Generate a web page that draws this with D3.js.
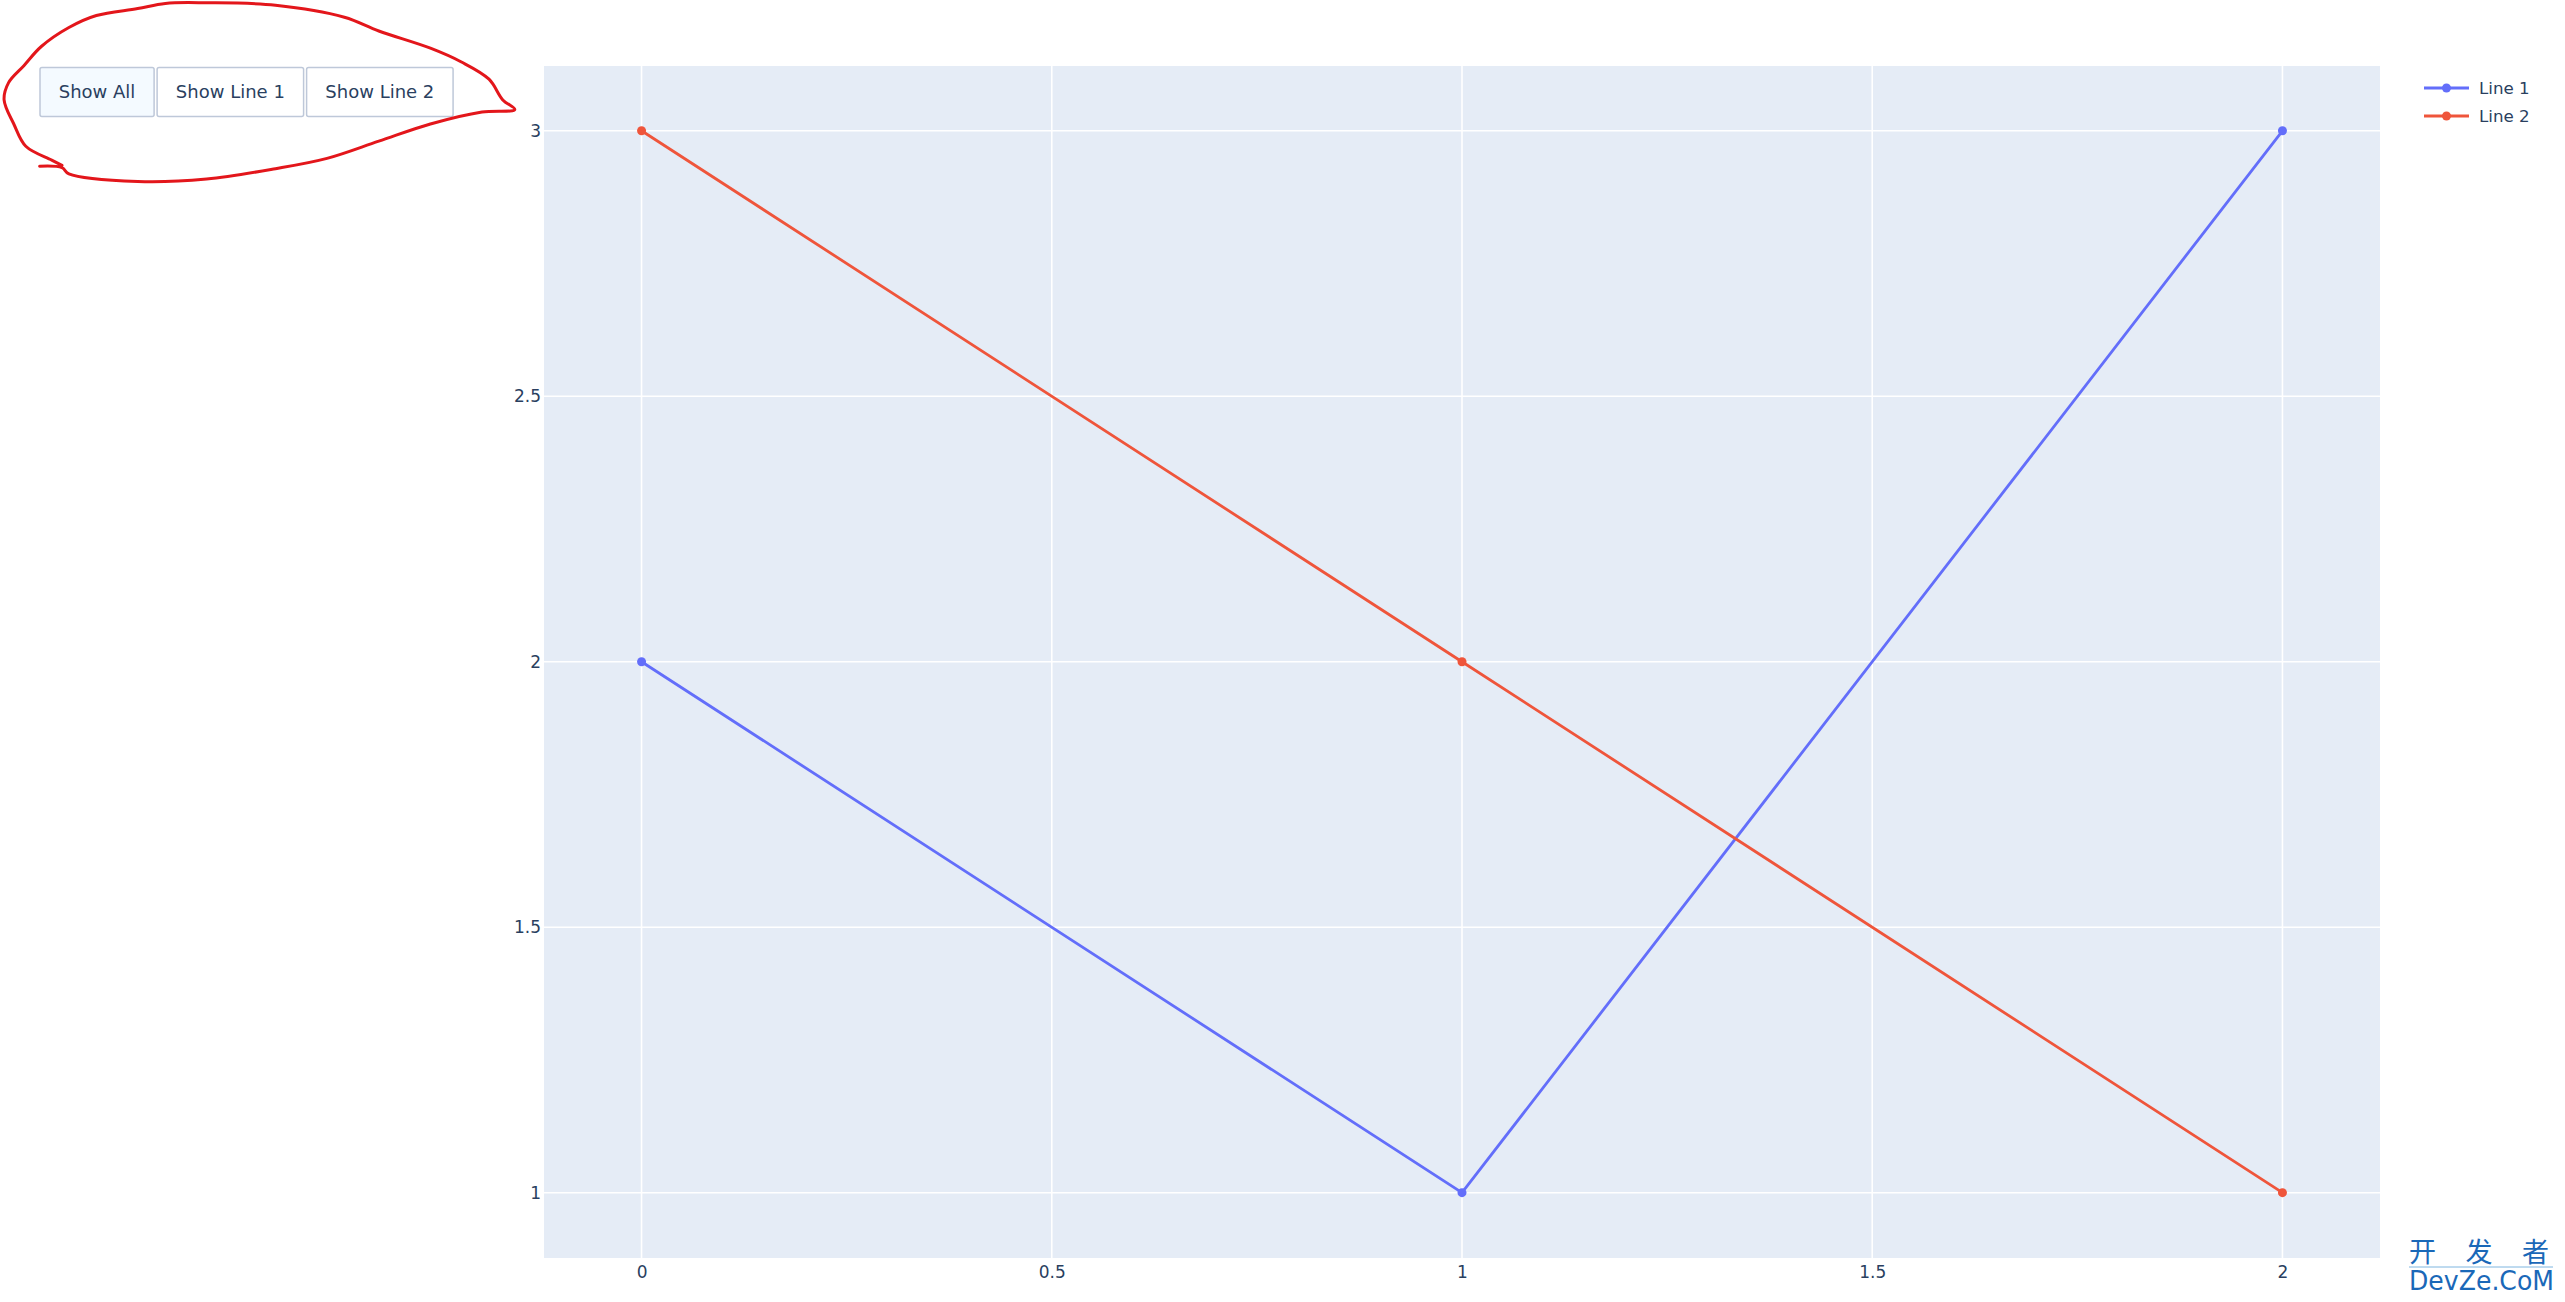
<!DOCTYPE html>
<html>
<head>
<meta charset="utf-8">
<script src="https://cdn.jsdelivr.net/npm/d3@7"></script>
<style>
  html, body { margin: 0; padding: 0; background: #fff; }
  svg { display: block; }
  .btn { cursor: pointer; }
</style>
</head>
<body>
<svg id="chart" width="2565" height="1302"></svg>
<script>
// ---- data ----
const xValues = [0, 1, 2];
const line1 = [2, 1, 3];
const line2 = [3, 2, 1];
const seriesNames = ["Line 1", "Line 2"];
const xTicks = [0, 0.5, 1, 1.5, 2];
const yTicks = [1, 1.5, 2, 2.5, 3];
const buttonLabels = ["Show All", "Show Line 1", "Show Line 2"];
const watermarkTop = "开 发 者";
const watermarkBottom = "DevZe.CoM";

// ---- layout ----
const W = 2565, H = 1302;
const plot = { left: 544, right: 2380, top: 66, bottom: 1258 };
const colors = ["#636efa", "#EF553B"];
const font = "'DejaVu Sans', Verdana, sans-serif";
const textColor = "#2a3f5f";

const svg = d3.select("#chart");

const x = d3.scaleLinear().domain([-0.1189, 2.1189]).range([plot.left, plot.right]);
const y = d3.scaleLinear().domain([0.877, 3.122]).range([plot.bottom, plot.top]);

// plot background
svg.append("rect")
  .attr("x", plot.left).attr("y", plot.top)
  .attr("width", plot.right - plot.left).attr("height", plot.bottom - plot.top)
  .attr("fill", "#E5ECF6");

// gridlines
const grid = svg.append("g");
grid.selectAll("line.vx").data(xTicks).join("line")
  .attr("x1", d => x(d)).attr("x2", d => x(d))
  .attr("y1", plot.top).attr("y2", plot.bottom)
  .attr("stroke", "#fff").attr("stroke-width", 1.6);
grid.selectAll("line.hy").data(yTicks).join("line")
  .attr("y1", d => y(d)).attr("y2", d => y(d))
  .attr("x1", plot.left).attr("x2", plot.right)
  .attr("stroke", "#fff").attr("stroke-width", 1.6);

// axes (labels only)
const fmt = d3.format("~g");
const xAxis = svg.append("g")
  .attr("transform", `translate(0,${plot.bottom})`)
  .call(d3.axisBottom(x).tickValues(xTicks).tickFormat(fmt).tickSize(0).tickPadding(8));
const yAxis = svg.append("g")
  .attr("transform", `translate(${plot.left},0)`)
  .call(d3.axisLeft(y).tickValues(yTicks).tickFormat(fmt).tickSize(0).tickPadding(3));
[xAxis, yAxis].forEach(a => {
  a.select(".domain").remove();
  a.selectAll("text").attr("fill", textColor).style("font-family", font).style("font-size", "17px");
});

// series
const series = [line1, line2].map((vals, i) => ({
  name: seriesNames[i], color: colors[i],
  points: xValues.map((xv, j) => ({ x: xv, y: vals[j] }))
}));
const lineGen = d3.line().x(d => x(d.x)).y(d => y(d.y));
const seriesG = svg.append("g").selectAll("g").data(series).join("g");
seriesG.append("path")
  .attr("d", d => lineGen(d.points))
  .attr("fill", "none").attr("stroke", d => d.color).attr("stroke-width", 2.8);
seriesG.each(function (s) {
  d3.select(this).selectAll("circle").data(s.points).join("circle")
    .attr("cx", d => x(d.x)).attr("cy", d => y(d.y)).attr("r", 4.5)
    .attr("fill", s.color);
});

// legend
const legend = svg.append("g").attr("transform", "translate(2424,88)");
const legItems = legend.selectAll("g").data(series).join("g")
  .attr("transform", (d, i) => `translate(0,${i * 28})`);
legItems.append("line").attr("x1", 0).attr("x2", 45).attr("y1", 0).attr("y2", 0)
  .attr("stroke", d => d.color).attr("stroke-width", 2.8);
legItems.append("circle").attr("cx", 22.5).attr("cy", 0).attr("r", 4.5).attr("fill", d => d.color);
legItems.append("text").attr("x", 55).attr("y", 0).attr("dy", "0.36em")
  .attr("fill", textColor).style("font-family", font).style("font-size", "16.7px")
  .text(d => d.name);

// buttons
const btnG = svg.append("g");
let active = 0;
let bx = 40;
const btnTop = 67.5, btnH = 49;
buttonLabels.forEach((label, i) => {
  const g = btnG.append("g").attr("class", "btn");
  const t = g.append("text").attr("y", btnTop + btnH / 2).attr("dy", "0.36em")
    .attr("fill", textColor).style("font-family", font).style("font-size", "18px").text(label);
  const tw = t.node().getComputedTextLength();
  const bw = tw + 37.5;
  g.insert("rect", "text")
    .attr("x", bx).attr("y", btnTop).attr("width", bw).attr("height", btnH)
    .attr("rx", 2).attr("fill", i === active ? "#F4FAFF" : "#fff")
    .attr("stroke", "#BEC8D9").attr("stroke-width", 1.5);
  t.attr("x", bx + (bw - tw) / 2);
  g.on("click", () => {
    btnG.selectAll("rect").attr("fill", (d, k) => k === i ? "#F4FAFF" : "#fff");
    seriesG.attr("display", (d, k) => (i === 0 || k === i - 1) ? null : "none");
  });
  bx += bw + 3;
});

// hand-drawn red annotation around the buttons
const scribble = [[39.6,166.3],[62,167.7],[68.9,173.9],[137.7,181.5],[206.6,179],[275.5,168.7],[327,158.4],
  [378.8,141.2],[430.4,124],[482,112],[514.8,109.5],[502.8,99.9],[489,79.2],[461.4,62],[430.4,48.2],
  [378.8,31],[344.4,17.2],[275.5,5.2],[206.6,2.8],[165.3,3.4],[137.7,8.6],[96.4,15.5],[68.9,27.5],
  [41.3,46.5],[24.1,65.4],[8.6,82.6],[4.1,99.9],[13.8,124],[25.8,146.3],[51.7,160.1],[62,165.3]];
svg.append("path")
  .attr("d", d3.line().curve(d3.curveCatmullRom)(scribble))
  .attr("fill", "none").attr("stroke", "#e3161b").attr("stroke-width", 3)
  .attr("stroke-linecap", "round");

// watermark
const wm = svg.append("g");
wm.append("text").attr("x", 2409).attr("y", 1262)
  .attr("fill", "#1a68b8").style("font-family", "'Noto Sans CJK SC', sans-serif").style("font-size", "27px")
  .attr("textLength", 140).attr("lengthAdjust", "spacing").text(watermarkTop);
wm.append("line").attr("x1", 2409).attr("x2", 2553).attr("y1", 1267).attr("y2", 1267)
  .attr("stroke", "#7fb6e0").attr("stroke-width", 1);
wm.append("text").attr("x", 2409).attr("y", 1290)
  .attr("fill", "#1a68b8").style("font-family", "'DejaVu Sans', sans-serif").style("font-size", "26px")
  .attr("textLength", 145).attr("lengthAdjust", "spacingAndGlyphs").text(watermarkBottom);
</script>
</body>
</html>
